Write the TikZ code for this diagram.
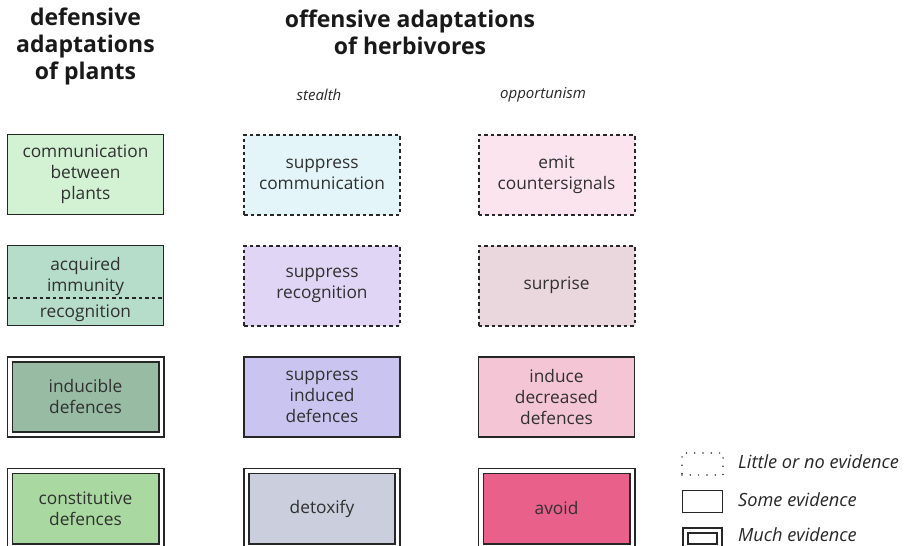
\documentclass[tikz,border=0pt]{standalone}
\usepackage{fontspec}
\setmainfont{Open Sans}
\definecolor{txt}{HTML}{303030}
\definecolor{cA}{HTML}{D3F2D4}
\definecolor{cB}{HTML}{B6DDC9}
\definecolor{cC}{HTML}{97BBA3}
\definecolor{cD}{HTML}{A9D9A1}
\definecolor{cE}{HTML}{E3F5F8}
\definecolor{cF}{HTML}{E1D5F5}
\definecolor{cG}{HTML}{C9C5F0}
\definecolor{cH}{HTML}{CACEDD}
\definecolor{cI}{HTML}{FCE4EE}
\definecolor{cJ}{HTML}{E9D7DD}
\definecolor{cK}{HTML}{F4C5D5}
\definecolor{cL}{HTML}{E9618B}
\begin{document}
\begin{tikzpicture}[x=1pt,y=-1pt,
  boxtext/.style={align=center,text=txt,font=\fontsize{17.3}{21}\selectfont},
  littlebox/.style={boxtext,draw=black!85,line width=2pt,dash pattern=on 3.6pt off 3pt,
     minimum width=156pt,minimum height=80pt,inner sep=0pt},
  somebox/.style={boxtext,draw=black!85,line width=1.9pt,
     minimum width=156pt,minimum height=80pt,inner sep=0pt},
  muchbox/.style={boxtext,draw=black!85,line width=1.6pt,double=white,double distance=3.4pt,
     minimum width=151.4pt,minimum height=75.4pt,inner sep=0pt},
  hdr/.style={align=center,text=black!90,font=\bfseries\fontsize{23}{27}\selectfont},
  sub/.style={text=black!85,font=\itshape\fontsize{15}{18}\selectfont},
  legtext/.style={anchor=west,text=black!85,font=\itshape\fontsize{18.2}{21}\selectfont,inner sep=0pt},
  legdot/.style={draw=black!80,line width=1.7pt,dash pattern=on 0pt off 8.3pt,line cap=round,
     minimum width=41pt,minimum height=22pt,inner sep=0pt},
  legsome/.style={draw=black!85,line width=1.7pt,minimum width=40pt,minimum height=22pt,inner sep=0pt},
  legmuch/.style={draw=black!85,line width=1.5pt,double=white,double distance=3.2pt,
     minimum width=34pt,minimum height=16pt,inner sep=0pt}
]
\useasboundingbox (0,0) rectangle (906,546);
\clip (0,0) rectangle (906,546);

% headers
\node[hdr] (hplants) at (85.5,46) {defensive\\adaptations\\of plants};
\node[hdr] (hherb) at (410,32.5) {offensive adaptations\\of herbivores};
\node[sub] (hstealth) at (319,95) {stealth};
\node[sub] (hopp) at (543,95) {opportunism};

% column 1
\node[somebox,fill=cA] (comm) at (85.5,174.5) {communication\\between\\plants};
\node[somebox,fill=cB] (acq) at (85.5,285.5) {};
\node[boxtext] (acqt) at (85.5,277) {acquired\\immunity};
\node[boxtext] (rect) at (85.5,313) {recognition};
\draw[black!85,line width=1.8pt,dash pattern=on 3.6pt off 3pt] (acq.west |- 0,298) coordinate (dl) -- (acq.east |- 0,298) coordinate (dr);
\node[muchbox,fill=cC] (ind) at (85.5,397) {inducible\\defences};
\node[muchbox,fill=cD] (cons) at (85.5,508.5) {constitutive\\defences};

% column 2
\node[littlebox,fill=cE] (scomm) at (322,174.5) {suppress\\communication};
\node[littlebox,fill=cF] (srec) at (322,285.5) {suppress\\recognition};
\node[somebox,fill=cG] (sind) at (322,397) {suppress\\induced\\defences};
\node[muchbox,fill=cH] (detox) at (322,508.5) {detoxify};

% column 3
\node[littlebox,fill=cI] (emit) at (556.5,174.5) {emit\\countersignals};
\node[littlebox,fill=cJ] (surp) at (556.5,285.5) {surprise};
\node[somebox,fill=cK] (idd) at (556.5,397) {induce\\decreased\\defences};
\node[muchbox,fill=cL] (avoid) at (556.5,508.5) {avoid};

% legend
\node[legdot] (lg1) at (702.5,464) {};
\node[legsome] (lg2) at (702.5,501.5) {};
\node[legmuch] (lg3) at (702.5,538.5) {};
\node[legtext] (lt1) at (738,462) {Little or no evidence};
\node[legtext] (lt2) at (738,500) {Some evidence};
\node[legtext] (lt3) at (738,534.5) {Much evidence};
\end{tikzpicture}
\end{document}
